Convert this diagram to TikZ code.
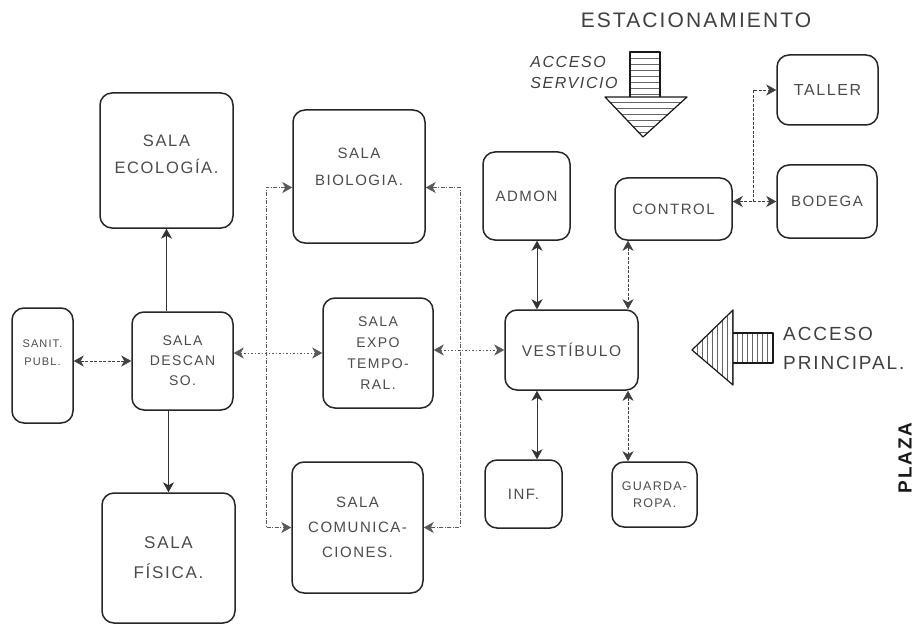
\documentclass[tikz,border=0pt]{standalone}
\usepackage{fontspec}
\setmainfont{Liberation Sans}[LetterSpace=10]
\usetikzlibrary{arrows.meta,calc}
\newcommand\hw[2]{\fontsize{#1}{#2}\selectfont}
\begin{document}
\begin{tikzpicture}[x=1pt,y=-1pt,
  >={Stealth[length=10pt,width=11pt,inset=3pt]},
  room/.style={draw=black!85, line width=1.5pt, rounded corners=12pt, inner sep=2pt,
    align=center, text=black!70, font=\hw{15}{21}},
  solidc/.style={draw=black!80, line width=0.7pt},
  dashc/.style={draw=black!75, line width=0.6pt, dash pattern=on 3pt off 1.5pt},
  dotc/.style={draw=black!65, line width=0.6pt, dash pattern=on 1.5pt off 2pt},
  busc/.style={draw=black!65, line width=0.6pt, dash pattern=on 4pt off 1.5pt on 1pt off 1.5pt},
  lbl/.style={text=black!75, inner sep=0pt},
  hatch/.style={draw=black!60, line width=0.4pt},
  bigarrow/.style={draw=black!90, line width=1.2pt, line join=round}]
\useasboundingbox (0,0) rectangle (920,631);
\fill[white] (0,0) rectangle (920,631);

% rooms
\node[room, minimum width=133pt, minimum height=135pt, font=\hw{16.5}{27}] (ecol) at (166.5,160.5) {SALA\\ECOLOGÍA.\\[-15pt]};
\node[room, minimum width=132pt, minimum height=133pt, font=\hw{15}{27}] (bio) at (359,176.5) {SALA\\BIOLOGIA.\\[-7pt]};
\node[room, minimum width=87pt, minimum height=88pt] (admon) at (526.5,196) {ADMON};
\node[room, minimum width=117pt, minimum height=62pt] (control) at (673.5,209) {CONTROL};
\node[room, minimum width=101pt, minimum height=70pt, font=\hw{16}{21}] (taller) at (827.5,90) {TALLER};
\node[room, minimum width=100pt, minimum height=73pt] (bodega) at (827,201.5) {BODEGA};
\node[room, minimum width=61pt, minimum height=115pt, font=\hw{11}{18}] (sanit) at (42.5,365.5) {SANIT.\\PUBL.\\[8pt]};
\node[room, minimum width=101pt, minimum height=98pt, font=\hw{14}{20}] (desc) at (182.5,361) {SALA\\DESCAN\\SO.};
\node[room, minimum width=110pt, minimum height=110pt, font=\hw{14}{21}] (expo) at (378,353) {SALA\\EXPO\\TEMPO-\\RAL.};
\node[room, minimum width=133pt, minimum height=80pt, font=\hw{15.5}{21}] (vest) at (571.5,350) {VESTÍBULO};
\node[room, minimum width=133pt, minimum height=130pt, font=\hw{17}{30}] (fis) at (168.5,558) {SALA\\FÍSICA.};
\node[room, minimum width=131pt, minimum height=131pt, font=\hw{15}{25}] (com) at (357.5,527.5) {SALA\\COMUNICA-\\CIONES.};
\node[room, minimum width=77pt, minimum height=68pt] (inf) at (523.5,494) {INF.};
\node[room, minimum width=85pt, minimum height=65pt, font=\hw{12.5}{17}] (guard) at (654.5,494.5) {GUARDA-\\ROPA.};

% helper coordinates for connector lines
\coordinate (lbus) at (266,0);
\coordinate (rbus) at (460,0);
\coordinate (c1) at (537,0);
\coordinate (c2) at (628,0);
\coordinate (tb) at (753,0);

% connectors
\draw[solidc, ->] (desc.north -| ecol.south) -- (ecol.south);
\draw[solidc, ->] (desc.south -| fis.north) -- (fis.north);
\draw[dashc, <->] (sanit.east |- desc.west) -- (desc.west);
\draw[dotc, <->] (desc.east |- expo.west) -- (expo.west);
\draw[dotc, <->] (expo.east |- vest.west) -- (vest.west);
\draw[busc, <->] ([yshift=-11pt]bio.west) -| (lbus |- com.west) -- (com.west);
\draw[busc, <->] ([yshift=-11pt]bio.east) -| (rbus |- com.east) -- (com.east);
\draw[solidc, <->] (c1 |- admon.south) -- (c1 |- vest.north);
\draw[dashc, <->] (c2 |- control.south) -- (c2 |- vest.north);
\draw[solidc, <->] (c1 |- vest.south) -- (c1 |- inf.north);
\draw[dashc, <->] (c2 |- vest.south) -- (c2 |- guard.north);
\draw[dashc, <->] (control.east |- bodega.west) -- (bodega.west);
\draw[dashc, ->] (tb |- bodega.west) |- (taller.west);

% acceso servicio arrow
\foreach \yy in {58,64,...,94} \draw[hatch] (631,\yy) -- (659,\yy);
\draw[bigarrow] (630,97) -- (630,52) -- (660,52) -- (660,97);
\begin{scope}
  \clip (605,97) -- (687,97) -- (643,137) -- cycle;
  \foreach \yy in {102,108,...,134} \draw[hatch] (600,\yy) -- (690,\yy);
\end{scope}
\draw[bigarrow] (605,97) -- (687,97) -- (643,137) -- cycle;

% acceso principal arrow
\foreach \xx in {737,742,...,770} \draw[hatch] (\xx,334) -- (\xx,362);
\begin{scope}
  \clip (692,350) -- (733,310) -- (733,385) -- cycle;
  \foreach \xx in {697,702,...,732} \draw[hatch] (\xx,305) -- (\xx,390);
\end{scope}
\draw[bigarrow] (733,333) -- (773,333) -- (773,363) -- (733,363);
\draw[bigarrow] (692,350) -- (733,310) -- (733,385) -- cycle;

% free labels
\node[lbl, font=\hw{21}{24}] (estac) at (696,20) {ESTACIONAMIENTO};
\node[lbl, font=\itshape\hw{16}{21}, align=left] (accserv) at (574,72) {ACCESO\\SERVICIO};
\node[lbl, font=\hw{19}{29}, align=left, anchor=west] (accprin) at (783,348) {ACCESO\\PRINCIPAL.};
\node[lbl, text=black!90, font=\bfseries\hw{19}{22}, rotate=90] (plaza) at (905,458) {PLAZA};
\end{tikzpicture}
\end{document}
